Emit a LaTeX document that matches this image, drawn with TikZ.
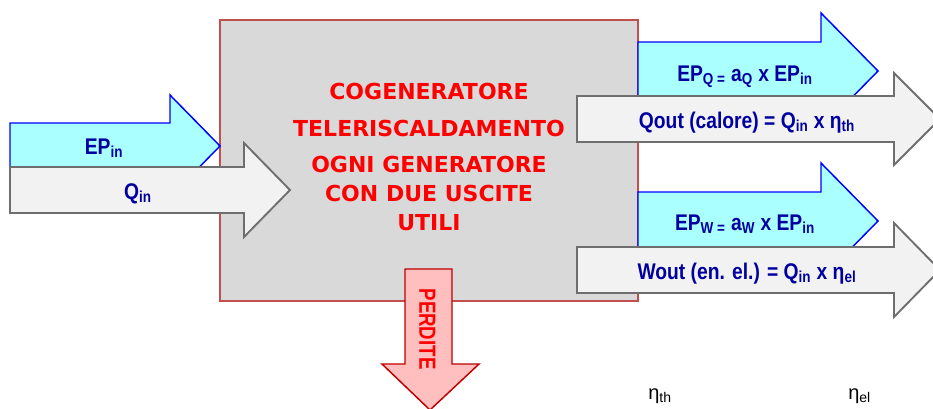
\documentclass[tikz,border=0pt]{standalone}
\usepackage{fontspec}
\newfontfamily\arrowfont[FakeStretch=0.85]{Liberation Sans}
\newfontfamily\lossfont[FakeStretch=0.8]{Liberation Sans}
\newfontfamily\boxfont{DejaVu Sans}
\newfontfamily\etafont{Liberation Sans}

\definecolor{boxgray}{HTML}{D9D9D9}
\definecolor{boxred}{HTML}{C0504D}
\definecolor{epcyan}{HTML}{AAFFFF}
\definecolor{qgray}{HTML}{F2F2F2}
\definecolor{qborder}{HTML}{6E6E6E}
\definecolor{lossfill}{HTML}{FFBFBF}
\definecolor{lossborder}{HTML}{C00000}
\definecolor{labelblue}{HTML}{0000A0}

% block arrow: style, tail x, head start x, tip x, centre y, half body, half head
\newcommand{\blockarrow}[7]{%
  \draw[#1] (#2,#5-#6) -- (#3,#5-#6) -- (#3,#5-#7) -- (#4,#5)
    -- (#3,#5+#7) -- (#3,#5+#6) -- (#2,#5+#6) -- cycle;}

\tikzset{
  epflow/.style={fill=epcyan, draw=blue, line width=1.1pt},
  qflow/.style={fill=qgray, draw=qborder, line width=1.4pt},
  lossflow/.style={fill=lossfill, draw=lossborder, line width=1.1pt},
  flowlabel/.style={text=labelblue, anchor=base, inner sep=0pt,
    font=\arrowfont\bfseries\fontsize{17}{20}\selectfont},
  boxlabel/.style={text=red, anchor=base, inner sep=0pt,
    font=\boxfont\bfseries\fontsize{16.5}{20}\selectfont},
  etalabel/.style={anchor=base west, inner sep=0pt,
    font=\etafont\fontsize{15}{18}\selectfont},
}

\begin{document}
\begin{tikzpicture}[x=0.75pt,y=-0.75pt]
            \clip (0,0) rectangle (933,408);
            \fill[white] (0,0) rectangle (933,408);
            % central block
            \draw[fill=boxgray, draw=boxred, line width=0.8pt] (220,20) rectangle (638,301);
            \node[boxlabel] (cogen) at (429,99) {COGENERATORE};
            \node[boxlabel] (telerisc) at (429,136) {TELERISCALDAMENTO};
            \node[boxlabel] (ogni) at (429,172) {OGNI GENERATORE};
            \node[boxlabel] (condue) at (429,201) {CON DUE USCITE};
            \node[boxlabel] (utili) at (429,230) {UTILI};
            % inputs
            \blockarrow{epflow}{10}{170}{220}{146}{23}{51}
            \node[flowlabel] (epin) at (104,154) {EP\textsubscript{in}};
            \blockarrow{qflow}{10}{244}{290}{190}{23}{47}
            \node[flowlabel] (qin) at (138,199) {Q\textsubscript{in}};
            % outputs
            \blockarrow{epflow}{638}{821}{878}{71}{29}{58}
            \node[flowlabel] (epq) at (745,81) {EP\textsubscript{Q =} a\textsubscript{Q} x EP\textsubscript{in}};
            \blockarrow{qflow}{577}{894}{940}{119}{23}{46}
            \node[flowlabel] (qout) at (747,128) {Qout (calore) = Q\textsubscript{in} x η\textsubscript{th}};
            \blockarrow{epflow}{638}{821}{878}{221}{29}{58}
            \node[flowlabel] (epw) at (745,230) {EP\textsubscript{W =} a\textsubscript{W} x EP\textsubscript{in}};
            \blockarrow{qflow}{577}{894}{940}{270}{23}{47}
            \node[flowlabel] (wout) at (747,279) {Wout (en. el.) = Q\textsubscript{in} x η\textsubscript{el}};
            % losses
            \draw[lossflow] (405,269) -- (452,269) -- (452,364) -- (479,364) -- (430,410)
              -- (382,364) -- (405,364) -- cycle;
            \node[text=red, rotate=-90, inner sep=0pt, font=\lossfont\bfseries\fontsize{17.5}{20}\selectfont]
              (perdite) at (427.5,329) {PERDITE};
            % efficiencies
            \node[etalabel] (etath) at (648,399) {η\textsubscript{th}};
            \node[etalabel] (etael) at (848,399) {η\textsubscript{el}};
        \end{tikzpicture}
\end{document}
